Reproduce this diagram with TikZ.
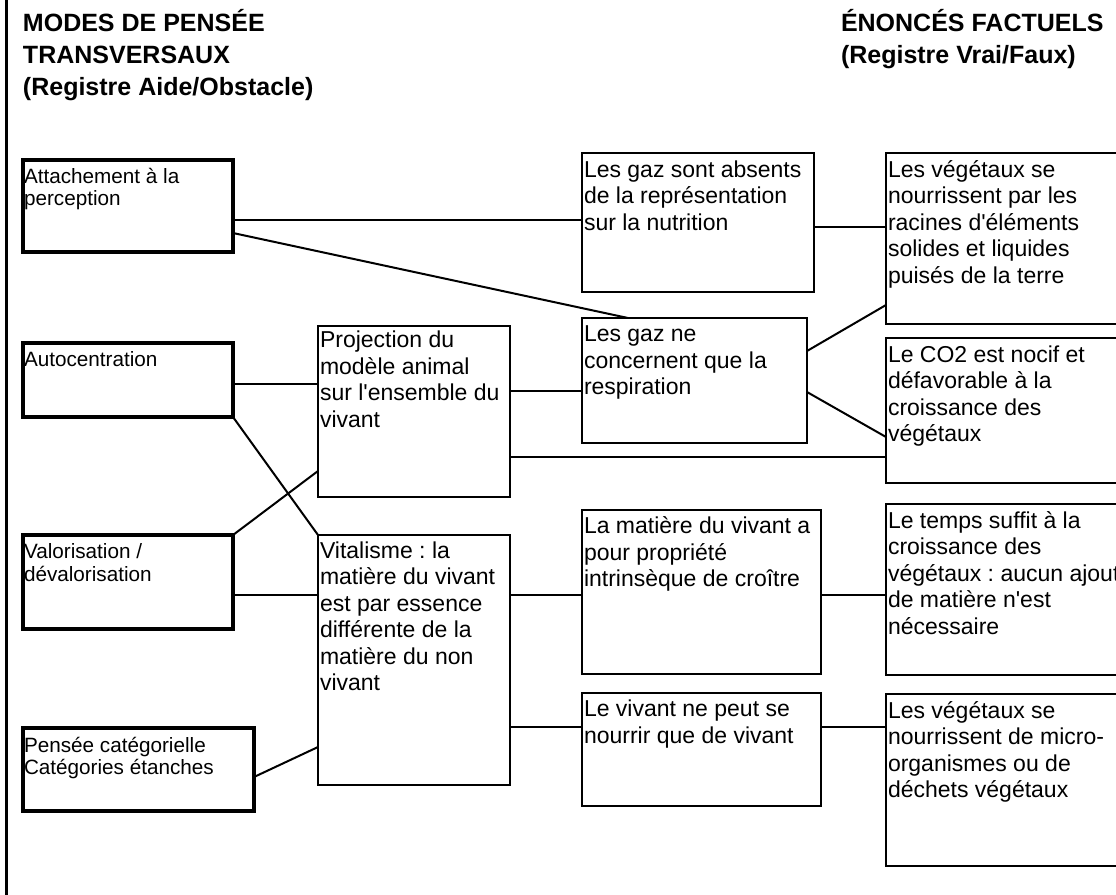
\documentclass[tikz,border=0pt]{standalone}
\usepackage{fontspec}
\setmainfont{Liberation Sans}
\usetikzlibrary{calc,shadows}
\frenchspacing
\newcommand{\ml}[1]{\begin{tabular}[t]{@{}l@{}}#1\end{tabular}}
\tikzset{
  box/.style={draw, line width=2pt, fill=white, rectangle, inner sep=0pt, outer sep=0pt, anchor=north west},
  lbox/.style={draw, line width=3.5pt, fill=white, rectangle, inner sep=0pt, outer sep=0pt, anchor=north west,
    drop shadow={shadow xshift=1.8pt, shadow yshift=-1.8pt, fill=black, opacity=1}},
  txt/.style={anchor=base west, inner sep=0pt, outer sep=0pt, font=\fontsize{23}{26.5}\selectfont\frenchspacing},
  ltxt/.style={anchor=base west, inner sep=0pt, outer sep=0pt, font=\fontsize{20.7}{22.5}\selectfont\frenchspacing},
  ttl/.style={anchor=base west, inner sep=0pt, outer sep=0pt, font=\fontsize{25}{32}\selectfont\bfseries},
  link/.style={draw, line width=2pt},
}
\begin{document}
\begin{tikzpicture}[x=1pt, y=-1pt]
\useasboundingbox (0,0) rectangle (1116,894);
\clip (0,0) rectangle (1116,894);
\fill[white] (0,0) rectangle (1116,894);
% frame line
\draw[line width=2.7pt] (6.7,-5) -- (6.7,900);
% titles
\node[ttl] (t1) at (23,31) {\ml{MODES DE PENSÉE\\TRANSVERSAUX\\(Registre Aide/Obstacle)}};
\node[ttl] (t2) at (841,31) {\ml{ÉNONCÉS FACTUELS\\(Registre Vrai/Faux)}};
% left boxes
\node[lbox, minimum width=210pt, minimum height=92pt] (att) at (23,160) {};
\node[lbox, minimum width=210pt, minimum height=74pt] (auto) at (23,343) {};
\node[lbox, minimum width=210pt, minimum height=94pt] (valo) at (23,535) {};
\node[lbox, minimum width=231pt, minimum height=83pt] (pens) at (23,728) {};
% middle boxes
\node[box, minimum width=192pt, minimum height=171pt] (proj) at (318,326) {};
\node[box, minimum width=192pt, minimum height=250pt] (vit) at (318,535) {};
% third column
\node[box, minimum width=232pt, minimum height=139pt] (gabs) at (582,153) {};
\node[box, minimum width=225pt, minimum height=125pt] (gne) at (582,318) {};
\node[box, minimum width=239pt, minimum height=164pt] (mat) at (582,510) {};
\node[box, minimum width=239pt, minimum height=113pt] (viv) at (582,693) {};
% right column
\node[box, minimum width=260pt, minimum height=171pt] (r1) at (886,153) {};
\node[box, minimum width=260pt, minimum height=145pt] (r2) at (886,338) {};
\node[box, minimum width=260pt, minimum height=171pt] (r3) at (886,504) {};
\node[box, minimum width=260pt, minimum height=172pt] (r4) at (886,694) {};
% texts
\node[ltxt] (attT) at ($(att.north west)+(1,23)$) {\ml{Attachement à la\\perception}};
\node[ltxt] (autoT) at ($(auto.north west)+(1,23.5)$) {\ml{Autocentration}};
\node[ltxt] (valoT) at ($(valo.north west)+(1,23.5)$) {\ml{Valorisation /\\dévalorisation}};
\node[ltxt] (pensT) at ($(pens.north west)+(1,24)$) {\ml{Pensée catégorielle\\Catégories étanches}};
\node[txt] (projT) at ($(proj.north west)+(2,21.5)$) {\ml{Projection du\\modèle animal\\sur l\textquotesingle ensemble du\\vivant}};
\node[txt] (vitT) at ($(vit.north west)+(2,23)$) {\ml{Vitalisme : la\\matière du vivant\\est par essence\\différente de la\\matière du non\\vivant}};
\node[txt] (gabsT) at ($(gabs.north west)+(2,24)$) {\ml{Les gaz sont absents\\de la représentation\\sur la nutrition}};
\node[txt] (gneT) at ($(gne.north west)+(2,23.5)$) {\ml{Les gaz ne\\concernent que la\\respiration}};
\node[txt] (matT) at ($(mat.north west)+(2,23.5)$) {\ml{La matière du vivant a\\pour propriété\\intrinsèque de croître}};
\node[txt] (vivT) at ($(viv.north west)+(2,23.5)$) {\ml{Le vivant ne peut se\\nourrir que de vivant}};
\node[txt] (r1T) at ($(r1.north west)+(2,24)$) {\ml{Les végétaux se\\nourrissent par les\\racines d\textquotesingle éléments\\solides et liquides\\puisés de la terre}};
\node[txt] (r2T) at ($(r2.north west)+(2,24)$) {\ml{Le CO2 est nocif et\\défavorable à la\\croissance des\\végétaux}};
\node[txt] (r3T) at ($(r3.north west)+(2,24)$) {\ml{Le temps suffit à la\\croissance des\\végétaux : aucun ajout\\de matière n\textquotesingle est\\nécessaire}};
\node[txt] (r4T) at ($(r4.north west)+(2,24)$) {\ml{Les végétaux se\\nourrissent de micro-\\organismes ou de\\déchets végétaux}};
% connectors
\path[link] ($(att.north east)+(0,60)$) -- ($(gabs.north west)+(0,67)$);
\path[link] ($(att.north east)+(0,73)$) -- ($(gne.north west)+(46,0)$);
\path[link] ($(gabs.north east)+(0,74)$) -- ($(r1.north west)+(0,74)$);
\path[link] ($(gne.north east)+(0,33)$) -- ($(r1.north west)+(0,152)$);
\path[link] ($(gne.north east)+(0,74)$) -- ($(r2.north west)+(0,99)$);
\path[link] ($(proj.north east)+(0,131)$) -- ($(r2.north west)+(0,119)$);
\path[link] ($(proj.north east)+(0,65)$) -- ($(gne.north west)+(0,73)$);
\path[link] ($(auto.north east)+(0,41)$) -- ($(proj.north west)+(0,58)$);
\path[link] (auto.south east) -- (vit.north west);
\path[link] (valo.north east) -- ($(proj.north west)+(0,145)$);
\path[link] ($(valo.north east)+(0,60)$) -- ($(vit.north west)+(0,60)$);
\path[link] ($(pens.north east)+(0,49)$) -- ($(vit.north west)+(0,212)$);
\path[link] ($(vit.north east)+(0,60)$) -- ($(mat.north west)+(0,85)$);
\path[link] ($(vit.north east)+(0,192)$) -- ($(viv.north west)+(0,34)$);
\path[link] ($(mat.north east)+(0,85)$) -- ($(r3.north west)+(0,91)$);
\path[link] ($(viv.north east)+(0,34)$) -- ($(r4.north west)+(0,33)$);
\end{tikzpicture}
\end{document}
